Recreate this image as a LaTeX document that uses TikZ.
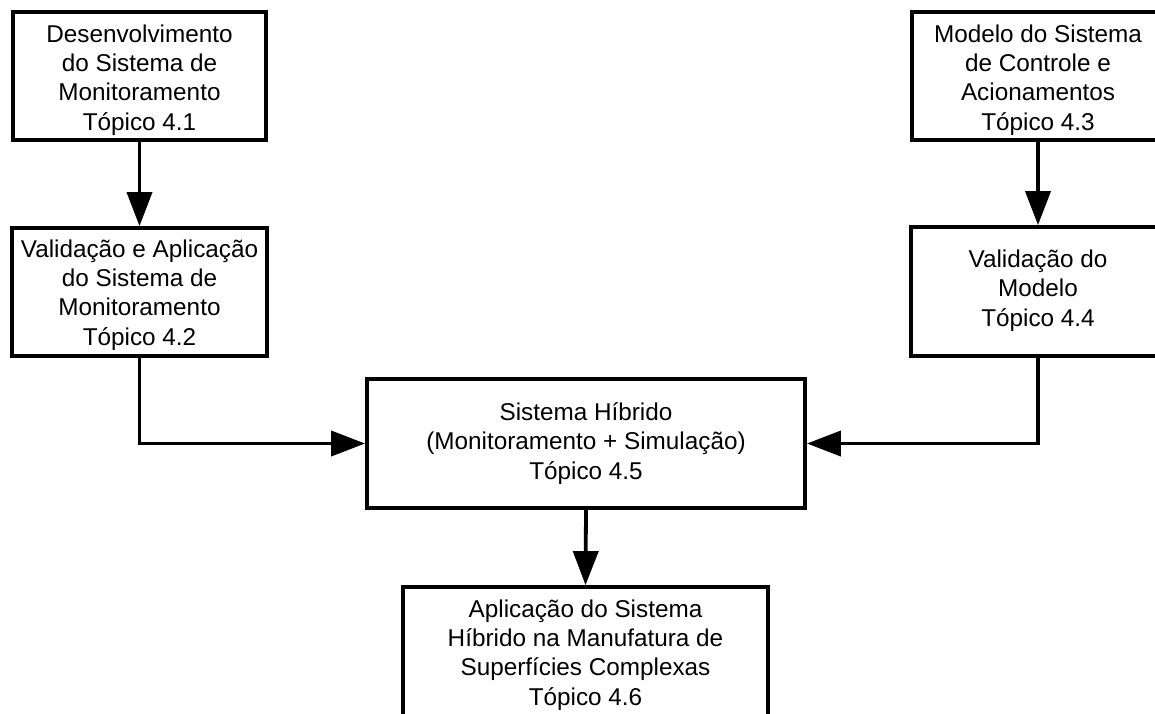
\documentclass[tikz,border=0pt]{standalone}
\usepackage{fontspec}
\setmainfont{Liberation Sans}
\usetikzlibrary{arrows.meta}
\begin{document}
\begin{tikzpicture}[x=1pt,y=-1pt,
  frame/.style={draw=black, line width=3.8pt, fill=white, inner sep=0pt},
  caption/.style={align=center, inner sep=0pt,
    font=\fontsize{24.3pt}{29.3pt}\selectfont},
  flow/.style={line width=3.8pt, -{Triangle[length=34pt,width=25pt]}}]
\useasboundingbox (0,0) rectangle (1155,713);
\clip (0,0) rectangle (1155,713);

% left column
\node[frame, minimum width=253pt, minimum height=128pt] (b1) at (139.5,76) {};
\node[caption] (t1) at ([yshift=-4pt]b1.center)
  {Desenvolvimento\\do Sistema de\\Monitoramento\\Tópico 4.1};
\node[frame, minimum width=255pt, minimum height=128pt] (b2) at (139.5,292) {};
\node[caption] (t2) at ([yshift=-3pt]b2.center)
  {Validação e Aplicação\\do Sistema de\\Monitoramento\\Tópico 4.2};

% right column
\node[frame, minimum width=252pt, minimum height=128pt] (b3) at (1038,76) {};
\node[caption] (t3) at ([yshift=-4pt]b3.center)
  {Modelo do Sistema\\de Controle e\\Acionamentos\\Tópico 4.3};
\node[frame, minimum width=254pt, minimum height=129pt] (b4) at (1038,291.5) {};
\node[caption] (t4) at ([yshift=1pt]b4.center)
  {Validação do\\Modelo\\Tópico 4.4};

% centre
\node[frame, minimum width=438pt, minimum height=129pt] (b5) at (586,443.5) {};
\node[caption] (t5) at (b5.center)
  {Sistema Híbrido\\(Monitoramento + Simulação)\\Tópico 4.5};
\node[frame, minimum width=365pt, minimum height=136pt] (b6) at (585.5,655) {};
\node[caption] (t6) at (b6.center)
  {Aplicação do Sistema\\Híbrido na Manufatura de\\Superfícies Complexas\\Tópico 4.6};

% connectors
\draw[flow] (b1.south) -- (b2.north);
\draw[flow] (b3.south) -- (b4.north);
\draw[flow] (b2.south) |- (b5.west);
\draw[flow] (b4.south) |- (b5.east);
\draw[flow] (b5.south) -- (b6.north);
\end{tikzpicture}
\end{document}
